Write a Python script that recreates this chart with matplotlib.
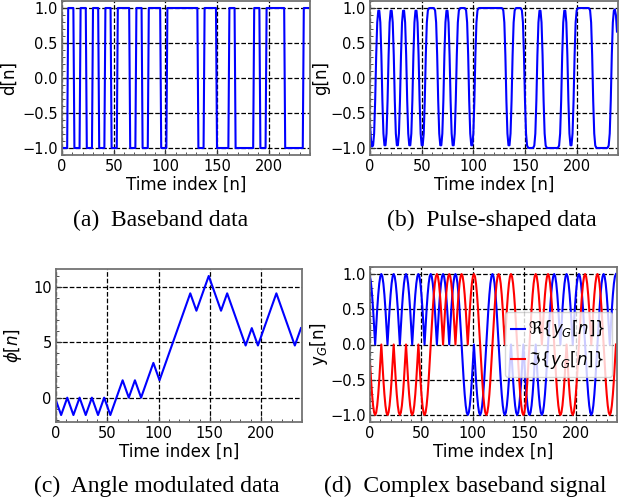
"""GMSK-style signal chain: baseband bits -> pulse shaping -> phase -> complex baseband."""
import numpy as np
import matplotlib

matplotlib.use("Agg")
import matplotlib.pyplot as plt  # noqa: E402

# symbol values (+1/-1), 6 samples per symbol, 240 samples total
bits = [-1, 1, -1, 1, -1, 1, -1, 1, -1, 1,
        1, -1, 1, -1, 1, 1, -1, 1, 1, 1,
        1, 1, -1, 1, 1, -1, -1, 1, -1, -1,
        -1, 1, -1, 1, 1, 1, -1, -1, -1, 1]
sps = 6
bt = 0.65
xticks = [0, 50, 100, 150, 200]
captions = ["(a)  Baseband data", "(b)  Pulse-shaped data",
            "(c)  Angle modulated data", "(d)  Complex baseband signal"]

# signal chain
d = np.repeat(bits, sps).astype(float)
n = np.arange(len(d))
sigma = np.sqrt(np.log(2)) / (2 * np.pi * bt) * sps
k = np.arange(-3 * sps, 3 * sps + 1)
h = np.exp(-k ** 2 / (2 * sigma ** 2))
h /= h.sum()
g = np.convolve(d, h, mode="same")
phi = np.cumsum(d) * (np.pi / 2) / sps
y = np.exp(1j * phi)

plt.rcParams.update({
    "font.family": "DejaVu Sans",
    "font.size": 12,
    "xtick.labelsize": 10.5,
    "ytick.labelsize": 10.5,
    "xtick.direction": "in",
    "ytick.direction": "in",
    "xtick.major.size": 4,
    "ytick.major.size": 4,
    "xtick.minor.size": 2,
    "ytick.minor.size": 2,
    "axes.edgecolor": "0.45",
    "axes.linewidth": 1.3,
})

W, H = 627, 503
fig = plt.figure(figsize=(W / 100, H / 100), dpi=100)


def add_ax(left, top, right, bottom):
    return fig.add_axes([left / W, 1 - bottom / H, (right - left) / W, (bottom - top) / H])


def style(ax, ylabel, ylab_x):
    ax.set_xlim(0, 240)
    ax.set_xticks(xticks)
    ax.minorticks_on()
    ax.grid(True, which="major", color="black", linestyle="--", linewidth=0.9)
    ax.set_xlabel("Time index [n]", labelpad=1)
    ax.set_ylabel(ylabel)
    ax.yaxis.set_label_coords(ylab_x, 0.5)
    ax.tick_params(which="both", color="0.2", pad=3)


ax_a = add_ax(62, 1, 310, 155)
ax_a.plot(n, d, color="blue", linewidth=1.5)
ax_a.set_yticks([-1.0, -0.5, 0.0, 0.5, 1.0])
style(ax_a, "d[n]", -0.18)

ax_b = add_ax(370, 1, 618, 155)
ax_b.plot(n, g, color="blue", linewidth=1.5)
ax_b.set_yticks([-1.0, -0.5, 0.0, 0.5, 1.0])
style(ax_b, "g[n]", -0.16)

ax_c = add_ax(56, 269, 302, 422)
ax_c.plot(n, phi, color="blue", linewidth=1.5)
ax_c.set_yticks([0, 5, 10])
style(ax_c, r"$\phi[n]$", -0.13)

ax_d = add_ax(370, 267, 617, 422)
ax_d.plot(n, y.real, color="blue", linewidth=1.5, label=r"$\Re\{y_G[n]\}$")
ax_d.plot(n, y.imag, color="red", linewidth=1.5, label=r"$\Im\{y_G[n]\}$")
ax_d.set_yticks([-1.0, -0.5, 0.0, 0.5, 1.0])
style(ax_d, r"y$_G$[n]", -0.16)
ax_d.legend(loc="center right", fontsize=12, handlelength=0.8, handletextpad=0.2,
            borderaxespad=0.3, framealpha=0.8)

cap_pos = [(161, 220), (492, 220), (157, 486), (465, 486)]
for (cx, cy), text in zip(cap_pos, captions):
    fig.text(cx / W, 1 - cy / H, text, ha="center", va="center",
             family=["Liberation Serif", "DejaVu Serif"], fontsize=17)

fig.savefig("out.png", dpi=100)
